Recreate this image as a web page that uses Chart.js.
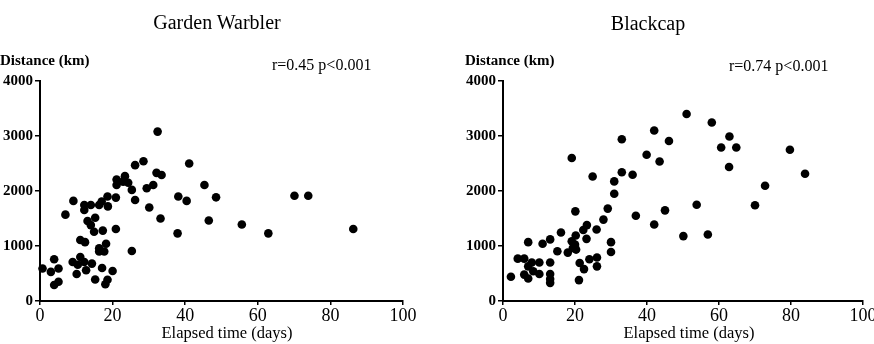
<!DOCTYPE html>
<html>
<head>
<meta charset="utf-8">
<script src="https://cdn.jsdelivr.net/npm/chart.js@4.4.0/dist/chart.umd.min.js"></script>
<style>
  body { margin: 0; background: #fff; }
  #wrap { position: relative; width: 874px; height: 344px; overflow: hidden;
          font-family: "Liberation Serif", "Times New Roman", serif; color: #000; }
  #wrap canvas { position: absolute; top: 0; }
  .txt { position: absolute; line-height: 1; white-space: nowrap; }
  .mid { transform: translateX(-50%); }
</style>
</head>
<body>
<div id="wrap">
  <canvas id="warbler" width="437" height="344" style="left:0"></canvas>
  <canvas id="blackcap" width="450" height="344" style="left:437px"></canvas>

  <div class="txt mid" style="left:217px;top:12px;font-size:20px">Garden Warbler</div>
  <div class="txt mid" style="left:648px;top:13px;font-size:20px">Blackcap</div>

  <div class="txt" style="left:0;top:53px;font-size:15px;font-weight:bold">Distance (km)</div>
  <div class="txt" style="left:465px;top:53px;font-size:15px;font-weight:bold">Distance (km)</div>

  <div class="txt" style="left:272px;top:57px;font-size:16px">r=0.45 p&lt;0.001</div>
  <div class="txt" style="left:729px;top:58px;font-size:16px">r=0.74 p&lt;0.001</div>

  <div class="txt mid" style="left:227px;top:325px;font-size:16.5px">Elapsed time (days)</div>
  <div class="txt mid" style="left:689px;top:325px;font-size:16.5px">Elapsed time (days)</div>
</div>

<script>
// ticks
const xTicks = [0, 20, 40, 60, 80, 100];
const yTicks = [0, 1000, 2000, 3000, 4000];

// Garden Warbler: elapsed days / distance km
const warblerDays = [0.7, 3.0, 3.9, 5.1, 3.9, 5.1, 7.0, 9.2, 9.0, 10.4, 10.1, 11.1, 12.2, 12.7, 14.3, 15.2,
  11.1, 12.4, 12.2, 12.2, 14.0, 16.3, 18.6, 20.9, 18.7, 17.0, 13.1, 15.2, 14.0, 14.9, 17.3, 20.9,
  16.3, 17.7, 16.3, 18.2, 17.1, 20.0, 18.6, 18.0, 21.1, 23.4, 22.9, 21.1, 24.3, 25.3, 26.2, 28.5,
  26.2, 29.4, 31.2, 30.1, 32.4, 32.1, 33.5, 33.2, 38.1, 40.4, 41.1, 45.3, 48.5, 46.5, 37.9, 25.3,
  55.6, 62.9, 70.1, 73.9, 86.3];
const warblerKm = [590, 530, 760, 590, 290, 350, 1570, 1820, 710, 660, 490, 800, 710, 560, 680, 390,
  1110, 1070, 1745, 1655, 1745, 1745, 1900, 1880, 1720, 1810, 1455, 1515, 1380, 1260, 1280, 1310,
  960, 900, 900, 1040, 600, 545, 385, 305, 2210, 2270, 2170, 2110, 2150, 2020, 2470, 2540,
  1836, 2050, 2110, 1700, 3080, 2330, 2290, 1500, 1900, 1820, 2500, 2110, 1885, 1465, 1230, 910,
  1390, 1230, 1915, 1915, 1310];

// Blackcap
const blackcapDays = [2.2, 4.1, 5.9, 7.0, 11.0, 13.1, 16.1, 15.1, 13.1, 13.1, 13.1, 13.1, 10.1, 8.0, 7.0, 5.9,
  7.0, 10.1, 8.4, 21.1, 18.0, 19.4, 20.0, 20.3, 19.1, 20.2, 20.1, 19.1, 23.2, 22.3, 23.3, 26.0,
  27.9, 24.0, 26.1, 26.1, 22.5, 21.3, 30.0, 30.0, 29.1, 24.9, 30.9, 30.9, 33.0, 36.0, 33.0, 36.9,
  39.9, 42.0, 43.5, 46.1, 45.0, 42.0, 50.1, 56.9, 51.0, 53.8, 58.0, 60.6, 62.9, 64.8, 62.8, 70.0,
  72.8, 79.7, 83.9];
const blackcapKm = [440, 770, 770, 1070, 1040, 1120, 1245, 905, 700, 490, 400, 330, 700, 700, 630, 480,
  410, 490, 540, 380, 880, 965, 1025, 935, 1085, 1190, 1630, 2600, 1130, 1290, 1380, 1300,
  1480, 760, 790, 630, 580, 690, 1070, 890, 1680, 2265, 2175, 1950, 2340, 2296, 2940, 1550,
  2660, 3100, 2537, 2910, 1648, 1390, 1180, 1210, 3400, 1750, 3245, 2790, 2990, 2790, 2436, 1740,
  2096, 2750, 2314];

function toPoints(xs, ys) {
    return xs.map((x, i) => ({ x: x, y: ys[i] }));
}

function makeChart(id, xs, ys, padLeft, padRight) {
    const ctx = document.getElementById(id).getContext('2d');
    return new Chart(ctx, {
        type: 'scatter',
        data: {
            datasets: [{
                data: toPoints(xs, ys),
                backgroundColor: '#000',
                borderWidth: 0,
                pointRadius: 4.3,
                pointHoverRadius: 4.3,
                clip: false
            }]
        },
        options: {
            responsive: false,
            animation: false,
            devicePixelRatio: 1,
            layout: { padding: { top: 81, left: padLeft, right: padRight, bottom: 0 } },
            plugins: { legend: { display: false }, tooltip: { enabled: false } },
            scales: {
                x: {
                    type: 'linear', min: 0, max: 100,
                    afterBuildTicks: s => { s.ticks = xTicks.map(v => ({ value: v })); },
                    afterFit: s => { s.height = 43; },
                    border: { display: true, color: '#000', width: 2 },
                    grid: { drawOnChartArea: false, drawTicks: true, tickLength: 4, color: '#000', lineWidth: 1.5 },
                    ticks: {
                        padding: 0, color: '#000', maxRotation: 0,
                        callback: v => String(v),
                        font: { family: 'Liberation Serif', size: 18, weight: 'normal' }
                    }
                },
                y: {
                    type: 'linear', min: 0, max: 4000,
                    afterBuildTicks: s => { s.ticks = yTicks.map(v => ({ value: v })); },
                    afterFit: s => { s.width = 40; },
                    border: { display: true, color: '#000', width: 2 },
                    grid: { drawOnChartArea: false, drawTicks: true, tickLength: 5, color: '#000', lineWidth: 1.5 },
                    ticks: {
                        padding: 2, color: '#000',
                        callback: v => String(v),
                        font: { family: 'Liberation Serif', size: 15, weight: 'bold' }
                    }
                }
            }
        }
    });
}

makeChart('warbler', warblerDays, warblerKm, 0, 34);
makeChart('blackcap', blackcapDays, blackcapKm, 26, 24);
</script>
</body>
</html>
